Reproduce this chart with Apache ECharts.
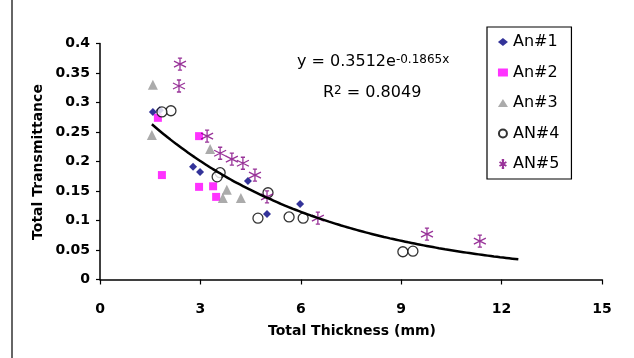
<!DOCTYPE html>
<html>
<head>
<meta charset="utf-8">
<script src="https://cdn.jsdelivr.net/npm/echarts@6/dist/echarts.min.js"></script>
<style>
html,body{margin:0;padding:0;background:#fff;}
#chart{width:634px;height:358px;}
</style>
</head>
<body>
<div id="chart"></div>
<script>
// ---- data ----
var seriesNames = ['An#1', 'An#2', 'An#3', 'AN#4', 'AN#5'];
var an1 = [[1.58,0.284],[1.79,0.287],[2.78,0.191],[2.99,0.182],[4.42,0.167],[4.99,0.111],[5.98,0.128]];
var an2 = [[1.73,0.274],[1.85,0.177],[2.96,0.243],[2.96,0.157],[3.38,0.158],[3.47,0.140]];
var an3 = [[1.58,0.330],[1.55,0.245],[3.29,0.221],[3.79,0.152],[3.67,0.138],[4.21,0.138]];
var an4 = [[2.12,0.286],[1.85,0.284],[3.59,0.181],[3.50,0.174],[5.02,0.147],[4.72,0.104],[5.65,0.106],[6.07,0.104],[9.05,0.047],[9.35,0.048]];
var an5 = [[2.39,0.365],[2.36,0.328],[3.20,0.243],[3.59,0.214],[3.94,0.204],[4.27,0.197],[4.63,0.177],[4.99,0.140],[6.51,0.104],[9.77,0.077],[11.35,0.065]];
// exponential trendline as displayed on the chart: y = 0.3512 e^(-0.1865x)
var trendA = 0.3512;
var trendB = -0.1865;
var trendStart = 1.55;
var trendEnd = 12.5;
var xTicks = [0, 3, 6, 9, 12, 15];
var yTicks = [0, 0.05, 0.1, 0.15, 0.2, 0.25, 0.3, 0.35, 0.4];
var xTitle = 'Total Thickness (mm)';
var yTitle = 'Total Transmittance';

var trend = [];
for (var i = 0; i <= 60; i++) {
  var x = trendStart + (trendEnd - trendStart) * i / 60;
  trend.push([x, trendA * Math.exp(trendB * x)]);
}

var starPath = 'path://M5,0L5,10M0.7,2.5L9.3,7.5M0.7,7.5L9.3,2.5M3.5,0L6.5,0M3.5,10L6.5,10';

var dv = "'DejaVu Sans',Verdana,sans-serif";
var chart = echarts.init(document.getElementById('chart'), null, {renderer: 'canvas'});
chart.setOption({
  animation: false,
  backgroundColor: '#fff',
  grid: {left: 100, right: 32, top: 43.5, bottom: 78.5, containLabel: false},
  xAxis: {
    type: 'value', min: xTicks[0], max: xTicks[xTicks.length-1], interval: 3,
    splitLine: {show: false},
    axisLine: {lineStyle: {color: '#000', width: 1.5}},
    axisTick: {show: true, length: 5, lineStyle: {color: '#000', width: 1.2}},
    axisLabel: {color: '#000', fontSize: 14, fontWeight: 'bold', fontFamily: dv, margin: 23}
  },
  yAxis: {
    type: 'value', min: yTicks[0], max: yTicks[yTicks.length-1], interval: 0.05,
    splitLine: {show: false},
    axisLine: {show: true, lineStyle: {color: '#000', width: 1.5}},
    axisTick: {show: true, length: 4, lineStyle: {color: '#000', width: 1.2}},
    axisLabel: {color: '#000', fontSize: 14, fontWeight: 'bold', fontFamily: dv, margin: 10}
  },
  legend: {
    orient: 'vertical', left: 487, top: 27,
    data: seriesNames,
    itemWidth: 10, itemHeight: 8, itemGap: 14.5,
    padding: [7, 12, 7, 10],
    borderColor: '#000', borderWidth: 1.2,
    backgroundColor: '#fff',
    textStyle: {color: '#000', fontSize: 16, fontFamily: dv}
  },
  graphic: [
    {type: 'line', shape: {x1: 12, y1: 0, x2: 12, y2: 358}, style: {stroke: '#333', lineWidth: 1.5}, silent: true},
    {type: 'text', left: 297, top: 54, style: {
      text: '{m|y = 0.3512e}{s|-0.1865x}',
      rich: {
        m: {fontSize: 16, fontFamily: dv, fill: '#000', verticalAlign: 'bottom'},
        s: {fontSize: 12, fontFamily: dv, fill: '#000', verticalAlign: 'top'}
      }
    }},
    {type: 'text', left: 323, top: 85, style: {
      text: '{m|R}{s|2}{m| = 0.8049}',
      rich: {
        m: {fontSize: 16, fontFamily: dv, fill: '#000', verticalAlign: 'bottom'},
        s: {fontSize: 12, fontFamily: dv, fill: '#000', verticalAlign: 'top'}
      }
    }},
    {type: 'text', x: 352, y: 331, style: {text: xTitle, fontSize: 14, fontWeight: 'bold', fontFamily: dv, fill: '#000', textAlign: 'center', textVerticalAlign: 'middle'}},
    {type: 'text', x: 38, y: 162, rotation: Math.PI/2, style: {text: yTitle, fontSize: 14, fontWeight: 'bold', fontFamily: dv, fill: '#000', textAlign: 'center', textVerticalAlign: 'middle'}}
  ],
  series: [
    {name: seriesNames[0], type: 'scatter', data: an1, symbol: 'diamond', symbolSize: 8, itemStyle: {color: '#000080'}, z: 3},
    {name: seriesNames[1], type: 'scatter', data: an2, symbol: 'rect', symbolSize: 8, itemStyle: {color: '#FF00FF'}, z: 3},
    {name: seriesNames[2], type: 'scatter', data: an3, symbol: 'triangle', symbolSize: 10, itemStyle: {color: '#969696'}, z: 3},
    {name: seriesNames[3], type: 'scatter', data: an4, symbol: 'circle', symbolSize: 10, itemStyle: {color: '#fff', borderColor: '#000', borderWidth: 1.3}, z: 3},
    {name: seriesNames[4], type: 'scatter', data: an5, symbol: starPath, symbolSize: 12, itemStyle: {color: 'none', borderColor: '#800080', borderWidth: 1.3}, z: 3},
    {name: 'trend', type: 'line', data: trend, showSymbol: false, symbol: 'none', smooth: true, lineStyle: {color: '#000', width: 2.5}, z: 4, silent: true}
  ]
});
</script>
</body>
</html>
